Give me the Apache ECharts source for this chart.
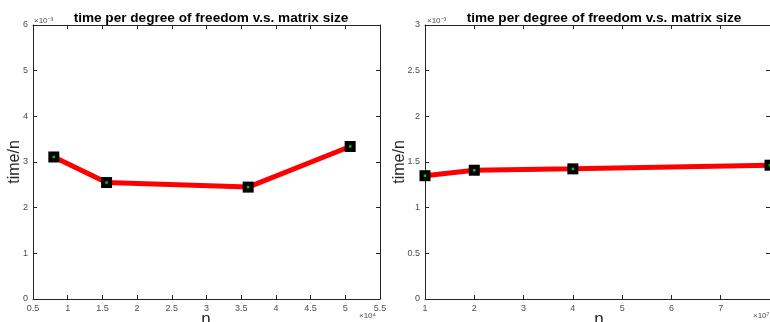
<!DOCTYPE html>
<html>
<head>
<meta charset="utf-8">
<script src="https://cdn.jsdelivr.net/npm/echarts@6/dist/echarts.min.js"></script>
<style>
  html, body { margin: 0; padding: 0; background: #fff; }
  #chart { width: 770px; height: 322px; }
</style>
</head>
<body>
<div id="chart"></div>
<script>
// left plot: n in units of 1e4, time/n in units of 1e-3
var nLeft = [0.8, 1.56, 3.6, 5.07];
var timeLeft = [3.11, 2.55, 2.45, 3.34];
// right plot: n in units of 1e7, time/n in units of 1e-3
var nRight = [1, 2, 4, 8];
var timeRight = [1.35, 1.41, 1.425, 1.465];

var titleText = 'time per degree of freedom v.s. matrix size';
var axisColor = '#262626';
var labelColor = '#4d4d4d';

function pairs(xs, ys) {
    return xs.map(function (x, i) { return [x, ys[i]]; });
}

// one value axis, MATLAB style (ticks inside, box drawn by mirror axes)
function valAxis(gi, pos, min, max, step, showLabel, extra) {
    var ax = {
        type: 'value', gridIndex: gi, position: pos,
        min: min, max: max, interval: step,
        splitLine: { show: false },
        axisLine: { show: true, onZero: false, lineStyle: { color: axisColor, width: 1 } },
        axisTick: { show: true, inside: true, length: 4, lineStyle: { color: axisColor } },
        axisLabel: {
            show: showLabel, color: labelColor, fontSize: 9,
            fontFamily: 'Liberation Sans', margin: 5
        }
    };
    return Object.assign(ax, extra || {});
}

function lineSeries(xi, yi, data) {
    return [{
        type: 'line', xAxisIndex: xi, yAxisIndex: yi, data: data,
        lineStyle: { color: '#ff0000', width: 5 },
        symbol: 'rect', symbolSize: 11,
        itemStyle: { color: '#000' },
        z: 2
    }, {
        type: 'scatter', xAxisIndex: xi, yAxisIndex: yi, data: data,
        symbol: 'rect', symbolSize: 2.5,
        itemStyle: { color: '#00ff00' },
        z: 3
    }];
}

var chart = echarts.init(document.getElementById('chart'), null, { renderer: 'canvas' });

var titleStyle = { fontSize: 13.6, fontWeight: 'bold', color: '#000', fontFamily: 'Liberation Sans' };

var option = {
    backgroundColor: '#ffffff',
    animation: false,
    grid: [
        { left: 33, top: 25, width: 347, height: 274 },
        { left: 425, top: 25, width: 348, height: 274 }
    ],
    xAxis: [
        valAxis(0, 'bottom', 0.5, 5.5, 0.5, true),
        valAxis(0, 'top', 0.5, 5.5, 0.5, false),
        valAxis(1, 'bottom', 1, 8, 1, true, {
            axisLabel: {
                color: labelColor, fontSize: 9, fontFamily: 'Liberation Sans',
                margin: 5, showMaxLabel: false
            }
        }),
        valAxis(1, 'top', 1, 8, 1, false)
    ],
    yAxis: [
        valAxis(0, 'left', 0, 6, 1, true),
        valAxis(0, 'right', 0, 6, 1, false),
        valAxis(1, 'left', 0, 3, 0.5, true),
        valAxis(1, 'right', 0, 3, 0.5, false)
    ],
    title: [
        { text: titleText, left: 206, top: 6, textAlign: 'center', textStyle: titleStyle },
        { text: titleText, left: 599, top: 6, textAlign: 'center', textStyle: titleStyle }
    ],
    graphic: [
        { type: 'text', left: 34, top: 17, style: { text: '×10⁻³', fontSize: 8, fill: labelColor, fontFamily: 'Liberation Sans' } },
        { type: 'text', left: 427, top: 17, style: { text: '×10⁻³', fontSize: 8, fill: labelColor, fontFamily: 'Liberation Sans' } },
        { type: 'text', left: 359, top: 312, style: { text: '×10⁴', fontSize: 8, fill: labelColor, fontFamily: 'Liberation Sans' } },
        { type: 'text', left: 753, top: 312, style: { text: '×10⁷', fontSize: 8, fill: labelColor, fontFamily: 'Liberation Sans' } },
        { type: 'text', x: 206, y: 319, style: { text: 'n', fontSize: 17, fill: '#262626', align: 'center', verticalAlign: 'middle', fontFamily: 'Liberation Sans' } },
        { type: 'text', x: 599, y: 319, style: { text: 'n', fontSize: 17, fill: '#262626', align: 'center', verticalAlign: 'middle', fontFamily: 'Liberation Sans' } },
        { type: 'text', x: 15, y: 162, rotation: Math.PI / 2, style: { text: 'time/n', fontSize: 16, fill: '#262626', align: 'center', verticalAlign: 'middle', fontFamily: 'Liberation Sans' } },
        { type: 'text', x: 400, y: 162, rotation: Math.PI / 2, style: { text: 'time/n', fontSize: 16, fill: '#262626', align: 'center', verticalAlign: 'middle', fontFamily: 'Liberation Sans' } }
    ],
    series: lineSeries(0, 0, pairs(nLeft, timeLeft))
        .concat(lineSeries(2, 2, pairs(nRight, timeRight)))
};

chart.setOption(option);
</script>
</body>
</html>
